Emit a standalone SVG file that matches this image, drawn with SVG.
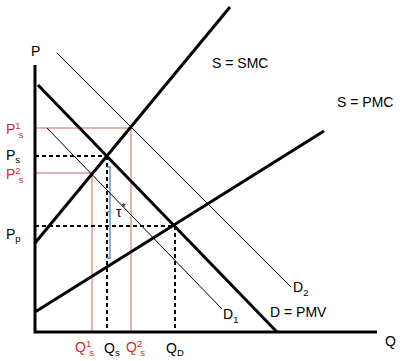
<svg xmlns="http://www.w3.org/2000/svg" width="402" height="361" viewBox="0 0 402 361">
<style>
.thick{stroke:#000;stroke-width:3;fill:none}
.thin{stroke:#000;stroke-width:1;fill:none}
.dash{stroke:#000;stroke-width:2;stroke-dasharray:4 3;fill:none}
.red{stroke:#d06060;stroke-width:1;fill:none}
.blue{stroke:#4a86c8;stroke-width:1.3;fill:none}
text{font-family:"Liberation Sans",Arial,sans-serif;font-size:14px;fill:#000}
.r{fill:#d42a2a}
.sub{font-size:9.5px}
</style>
<rect width="402" height="361" fill="#fff"/>
<g id="connectors">
<line class="red" x1="35" y1="128" x2="131" y2="128"/>
<line class="red" x1="131" y1="128" x2="131" y2="332"/>
<line class="red" x1="35" y1="173" x2="92" y2="173"/>
<line class="red" x1="92" y1="173" x2="92" y2="332"/>
<line class="dash" x1="35" y1="156" x2="107" y2="156"/>
<line class="dash" x1="107" y1="156" x2="107" y2="332"/>
<line class="dash" x1="35" y1="226" x2="175" y2="226"/>
<line class="dash" x1="175" y1="226" x2="175" y2="332"/>
<path class="blue" d="M107,167 H110 V258 H107 M110,212 H107"/>
<line class="thin" x1="47" y1="128" x2="222" y2="309"/>
<line class="thin" x1="57" y1="53" x2="291" y2="287"/>
<line class="thick" x1="35" y1="243" x2="230" y2="7"/>
<line class="thick" x1="35" y1="312" x2="324" y2="131"/>
<line class="thick" x1="38" y1="85" x2="277" y2="332"/>
<path class="thick" d="M35,65 V332 H377"/>
</g>
<g id="labels">
<text x="31" y="56">P</text>
<text x="385" y="346">Q</text>
<text class="r" x="6" y="134">P<tspan class="sub" dy="-5">1</tspan><tspan class="sub" dx="-2" dy="9">s</tspan></text>
<text x="6" y="160">P<tspan class="sub" dy="3">s</tspan></text>
<text class="r" x="6" y="179">P<tspan class="sub" dy="-5">2</tspan><tspan class="sub" dx="-2" dy="9">s</tspan></text>
<text x="6" y="239">P<tspan class="sub" dy="3">p</tspan></text>
<text class="r" x="75" y="352">Q<tspan class="sub" dy="-5">1</tspan><tspan class="sub" dx="-2" dy="9">s</tspan></text>
<text x="104" y="353">Q<tspan class="sub" dy="3">s</tspan></text>
<text class="r" x="126" y="352">Q<tspan class="sub" dy="-5">2</tspan><tspan class="sub" dx="-2" dy="9">s</tspan></text>
<text x="166" y="353">Q<tspan class="sub" dy="3">D</tspan></text>
<text x="116" y="217">τ<tspan style="font-size:11px" dy="-6">*</tspan></text>
<text x="212" y="68">S = SMC</text>
<text x="337" y="107">S = PMC</text>
<text x="293" y="292">D<tspan class="sub" dy="4">2</tspan></text>
<text x="223" y="319">D<tspan class="sub" dy="4">1</tspan></text>
<text x="270" y="317">D = PMV</text>
</g>
</svg>
